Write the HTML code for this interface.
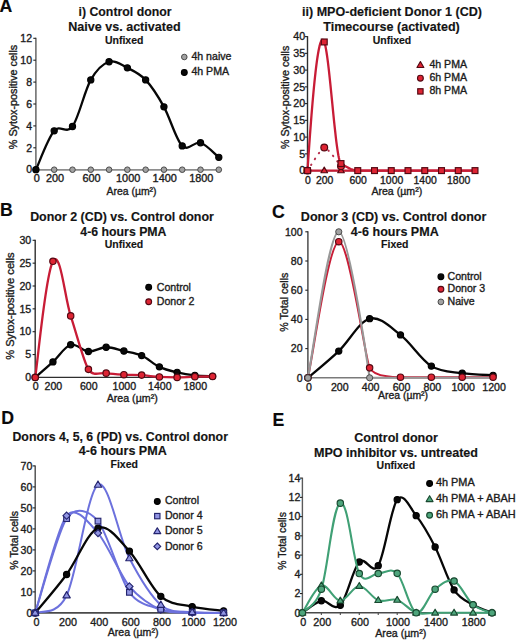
<!DOCTYPE html>
<html><head><meta charset="utf-8"><title>Figure</title>
<style>
html,body{margin:0;padding:0;background:#fff;}
body{width:520px;height:641px;overflow:hidden;font-family:"Liberation Sans", sans-serif;}
svg{display:block;}
</style></head><body>
<svg width="520" height="641" viewBox="0 0 520 641" font-family='"Liberation Sans", sans-serif'>
<rect width="520" height="641" fill="#ffffff"/>
<text x="-0.4" y="12.4" font-size="17.7" text-anchor="start" font-weight="bold" stroke="#0a0a0a" stroke-width="0.15" fill="#0a0a0a">A</text>
<text transform="translate(125 16.1) scale(1.01 1)" font-size="12.2" text-anchor="middle" font-weight="bold" stroke="#141414" stroke-width="0.15" fill="#141414">i) Control donor</text>
<text transform="translate(124.4 31.1) scale(1.03 1)" font-size="12.2" text-anchor="middle" font-weight="bold" stroke="#141414" stroke-width="0.15" fill="#141414">Naive vs. activated</text>
<text transform="translate(124.2 43.6) scale(1.04 1)" font-size="10.1" text-anchor="middle" font-weight="bold" stroke="#141414" stroke-width="0.15" fill="#141414">Unfixed</text>
<line x1="35.9" y1="37.8" x2="35.9" y2="169.7" stroke="#5c5c5c" stroke-width="1.4"/>
<line x1="33.3" y1="169.7" x2="35.9" y2="169.7" stroke="#222222" stroke-width="1.1"/>
<text transform="translate(32 173.4) scale(1.03 1)" font-size="10.2" text-anchor="end" stroke="#1c1c1c" stroke-width="0.35" fill="#1c1c1c">0</text>
<line x1="33.3" y1="147.8" x2="35.9" y2="147.8" stroke="#222222" stroke-width="1.1"/>
<text transform="translate(32 151.5) scale(1.03 1)" font-size="10.2" text-anchor="end" stroke="#1c1c1c" stroke-width="0.35" fill="#1c1c1c">2</text>
<line x1="33.3" y1="125.9" x2="35.9" y2="125.9" stroke="#222222" stroke-width="1.1"/>
<text transform="translate(32 129.6) scale(1.03 1)" font-size="10.2" text-anchor="end" stroke="#1c1c1c" stroke-width="0.35" fill="#1c1c1c">4</text>
<line x1="33.3" y1="104" x2="35.9" y2="104" stroke="#222222" stroke-width="1.1"/>
<text transform="translate(32 107.7) scale(1.03 1)" font-size="10.2" text-anchor="end" stroke="#1c1c1c" stroke-width="0.35" fill="#1c1c1c">6</text>
<line x1="33.3" y1="82.1" x2="35.9" y2="82.1" stroke="#222222" stroke-width="1.1"/>
<text transform="translate(32 85.8) scale(1.03 1)" font-size="10.2" text-anchor="end" stroke="#1c1c1c" stroke-width="0.35" fill="#1c1c1c">8</text>
<line x1="33.3" y1="60.2" x2="35.9" y2="60.2" stroke="#222222" stroke-width="1.1"/>
<text transform="translate(32 63.9) scale(1.03 1)" font-size="10.2" text-anchor="end" stroke="#1c1c1c" stroke-width="0.35" fill="#1c1c1c">10</text>
<line x1="33.3" y1="38.3" x2="35.9" y2="38.3" stroke="#222222" stroke-width="1.1"/>
<text transform="translate(32 42) scale(1.03 1)" font-size="10.2" text-anchor="end" stroke="#1c1c1c" stroke-width="0.35" fill="#1c1c1c">12</text>
<line x1="35.9" y1="169.7" x2="221.54" y2="169.7" stroke="#8c8c8c" stroke-width="1.4"/>
<text transform="translate(36.7 182) scale(1.07 1)" font-size="10.2" text-anchor="middle" stroke="#1c1c1c" stroke-width="0.35" fill="#1c1c1c">0</text>
<text transform="translate(54.99 182) scale(1.07 1)" font-size="10.2" text-anchor="middle" stroke="#1c1c1c" stroke-width="0.35" fill="#1c1c1c">200</text>
<text transform="translate(91.57 182) scale(1.07 1)" font-size="10.2" text-anchor="middle" stroke="#1c1c1c" stroke-width="0.35" fill="#1c1c1c">600</text>
<text transform="translate(128.15 182) scale(1.07 1)" font-size="10.2" text-anchor="middle" stroke="#1c1c1c" stroke-width="0.35" fill="#1c1c1c">1000</text>
<text transform="translate(164.73 182) scale(1.07 1)" font-size="10.2" text-anchor="middle" stroke="#1c1c1c" stroke-width="0.35" fill="#1c1c1c">1400</text>
<text transform="translate(201.31 182) scale(1.07 1)" font-size="10.2" text-anchor="middle" stroke="#1c1c1c" stroke-width="0.35" fill="#1c1c1c">1800</text>
<text transform="translate(16.5 97) rotate(-90) scale(1 1)" font-size="10.8" text-anchor="middle" fill="#1c1c1c" stroke="#1c1c1c" stroke-width="0.35">% Sytox-positive cells</text>
<text x="131.5" y="194.8" font-size="10.45" text-anchor="middle" stroke="#1c1c1c" stroke-width="0.35" fill="#1c1c1c">Area (µm²)</text>
<path d="M35.9,169.7 L54.19,169.7 L72.48,169.7 L90.77,169.7 L109.06,169.7 L127.35,169.7 L145.64,169.7 L163.93,169.7 L182.22,169.7 L200.51,169.7 L218.8,169.7" fill="none" stroke="#8e8e8e" stroke-width="1.6" stroke-linejoin="round" stroke-linecap="round"/>
<circle cx="35.9" cy="169.7" r="2.8" fill="#a2a2a2" stroke="#3e3e3e" stroke-width="0.9"/>
<circle cx="54.19" cy="169.7" r="2.8" fill="#a2a2a2" stroke="#3e3e3e" stroke-width="0.9"/>
<circle cx="72.48" cy="169.7" r="2.8" fill="#a2a2a2" stroke="#3e3e3e" stroke-width="0.9"/>
<circle cx="90.77" cy="169.7" r="2.8" fill="#a2a2a2" stroke="#3e3e3e" stroke-width="0.9"/>
<circle cx="109.06" cy="169.7" r="2.8" fill="#a2a2a2" stroke="#3e3e3e" stroke-width="0.9"/>
<circle cx="127.35" cy="169.7" r="2.8" fill="#a2a2a2" stroke="#3e3e3e" stroke-width="0.9"/>
<circle cx="145.64" cy="169.7" r="2.8" fill="#a2a2a2" stroke="#3e3e3e" stroke-width="0.9"/>
<circle cx="163.93" cy="169.7" r="2.8" fill="#a2a2a2" stroke="#3e3e3e" stroke-width="0.9"/>
<circle cx="182.22" cy="169.7" r="2.8" fill="#a2a2a2" stroke="#3e3e3e" stroke-width="0.9"/>
<circle cx="200.51" cy="169.7" r="2.8" fill="#a2a2a2" stroke="#3e3e3e" stroke-width="0.9"/>
<circle cx="218.8" cy="169.7" r="2.8" fill="#a2a2a2" stroke="#3e3e3e" stroke-width="0.9"/>
<path d="M35.9,169.7 C38.95,163.22 48.09,138.04 54.19,130.83 C60.29,123.62 66.38,134.93 72.48,126.45 C78.58,117.96 84.67,90.7 90.77,79.91 C96.87,69.12 102.96,63.74 109.06,61.73 C115.16,59.73 121.25,64.84 127.35,67.86 C133.45,70.89 139.54,73.41 145.64,79.91 C151.74,86.41 157.83,95.84 163.93,106.85 C170.03,117.85 176.12,139.95 182.22,145.94 C188.32,151.92 194.41,140.86 200.51,142.76 C206.61,144.66 215.75,154.9 218.8,157.33" fill="none" stroke="#070707" stroke-width="2.3" stroke-linejoin="round" stroke-linecap="round"/>
<circle cx="35.9" cy="169.7" r="3.1" fill="#080808" stroke="#000000" stroke-width="1.15"/>
<circle cx="54.19" cy="130.83" r="3.1" fill="#080808" stroke="#000000" stroke-width="1.15"/>
<circle cx="72.48" cy="126.45" r="3.1" fill="#080808" stroke="#000000" stroke-width="1.15"/>
<circle cx="90.77" cy="79.91" r="3.1" fill="#080808" stroke="#000000" stroke-width="1.15"/>
<circle cx="109.06" cy="61.73" r="3.1" fill="#080808" stroke="#000000" stroke-width="1.15"/>
<circle cx="127.35" cy="67.86" r="3.1" fill="#080808" stroke="#000000" stroke-width="1.15"/>
<circle cx="145.64" cy="79.91" r="3.1" fill="#080808" stroke="#000000" stroke-width="1.15"/>
<circle cx="163.93" cy="106.85" r="3.1" fill="#080808" stroke="#000000" stroke-width="1.15"/>
<circle cx="182.22" cy="145.94" r="3.1" fill="#080808" stroke="#000000" stroke-width="1.15"/>
<circle cx="200.51" cy="142.76" r="3.1" fill="#080808" stroke="#000000" stroke-width="1.15"/>
<circle cx="218.8" cy="157.33" r="3.1" fill="#080808" stroke="#000000" stroke-width="1.15"/>
<circle cx="184.3" cy="57" r="2.8" fill="#a2a2a2" stroke="#3e3e3e" stroke-width="0.9"/>
<circle cx="184.3" cy="72.5" r="2.9" fill="#080808" stroke="#000000" stroke-width="1.15"/>
<text transform="translate(191.4 60) scale(1.06 1)" font-size="10" text-anchor="start" stroke="#1c1c1c" stroke-width="0.35" fill="#1c1c1c">4h naive</text>
<text transform="translate(191.4 75.4) scale(1.06 1)" font-size="10" text-anchor="start" stroke="#1c1c1c" stroke-width="0.35" fill="#1c1c1c">4h PMA</text>
<text transform="translate(392 16.3) scale(1.03 1)" font-size="12.2" text-anchor="middle" font-weight="bold" stroke="#141414" stroke-width="0.15" fill="#141414">ii) MPO-deficient Donor 1 (CD)</text>
<text transform="translate(391.5 30.8) scale(1.03 1)" font-size="12.2" text-anchor="middle" font-weight="bold" stroke="#141414" stroke-width="0.15" fill="#141414">Timecourse (activated)</text>
<text transform="translate(392 43.8) scale(1.04 1)" font-size="10.1" text-anchor="middle" font-weight="bold" stroke="#141414" stroke-width="0.15" fill="#141414">Unfixed</text>
<line x1="307.5" y1="36.1" x2="307.5" y2="170.6" stroke="#2e2e2e" stroke-width="1.4"/>
<line x1="304.9" y1="170.6" x2="307.5" y2="170.6" stroke="#222222" stroke-width="1.1"/>
<text transform="translate(305.2 174.3) scale(1.05 1)" font-size="10.2" text-anchor="end" stroke="#1c1c1c" stroke-width="0.35" fill="#1c1c1c">0</text>
<line x1="304.9" y1="153.85" x2="307.5" y2="153.85" stroke="#222222" stroke-width="1.1"/>
<text transform="translate(305.2 157.55) scale(1.05 1)" font-size="10.2" text-anchor="end" stroke="#1c1c1c" stroke-width="0.35" fill="#1c1c1c">5</text>
<line x1="304.9" y1="137.1" x2="307.5" y2="137.1" stroke="#222222" stroke-width="1.1"/>
<text transform="translate(305.2 140.8) scale(1.05 1)" font-size="10.2" text-anchor="end" stroke="#1c1c1c" stroke-width="0.35" fill="#1c1c1c">10</text>
<line x1="304.9" y1="120.35" x2="307.5" y2="120.35" stroke="#222222" stroke-width="1.1"/>
<text transform="translate(305.2 124.05) scale(1.05 1)" font-size="10.2" text-anchor="end" stroke="#1c1c1c" stroke-width="0.35" fill="#1c1c1c">15</text>
<line x1="304.9" y1="103.6" x2="307.5" y2="103.6" stroke="#222222" stroke-width="1.1"/>
<text transform="translate(305.2 107.3) scale(1.05 1)" font-size="10.2" text-anchor="end" stroke="#1c1c1c" stroke-width="0.35" fill="#1c1c1c">20</text>
<line x1="304.9" y1="86.85" x2="307.5" y2="86.85" stroke="#222222" stroke-width="1.1"/>
<text transform="translate(305.2 90.55) scale(1.05 1)" font-size="10.2" text-anchor="end" stroke="#1c1c1c" stroke-width="0.35" fill="#1c1c1c">25</text>
<line x1="304.9" y1="70.1" x2="307.5" y2="70.1" stroke="#222222" stroke-width="1.1"/>
<text transform="translate(305.2 73.8) scale(1.05 1)" font-size="10.2" text-anchor="end" stroke="#1c1c1c" stroke-width="0.35" fill="#1c1c1c">30</text>
<line x1="304.9" y1="53.35" x2="307.5" y2="53.35" stroke="#222222" stroke-width="1.1"/>
<text transform="translate(305.2 57.05) scale(1.05 1)" font-size="10.2" text-anchor="end" stroke="#1c1c1c" stroke-width="0.35" fill="#1c1c1c">35</text>
<line x1="304.9" y1="36.6" x2="307.5" y2="36.6" stroke="#222222" stroke-width="1.1"/>
<text transform="translate(305.2 40.3) scale(1.05 1)" font-size="10.2" text-anchor="end" stroke="#1c1c1c" stroke-width="0.35" fill="#1c1c1c">40</text>
<line x1="307.5" y1="170.6" x2="477.09" y2="170.6" stroke="#2e2e2e" stroke-width="1.4"/>
<text transform="translate(307.9 183.9) scale(1.02 1)" font-size="10.2" text-anchor="middle" stroke="#1c1c1c" stroke-width="0.35" fill="#1c1c1c">0</text>
<text transform="translate(324.65 183.9) scale(1.02 1)" font-size="10.2" text-anchor="middle" stroke="#1c1c1c" stroke-width="0.35" fill="#1c1c1c">200</text>
<text transform="translate(358.15 183.9) scale(1.02 1)" font-size="10.2" text-anchor="middle" stroke="#1c1c1c" stroke-width="0.35" fill="#1c1c1c">600</text>
<text transform="translate(391.65 183.9) scale(1.02 1)" font-size="10.2" text-anchor="middle" stroke="#1c1c1c" stroke-width="0.35" fill="#1c1c1c">1000</text>
<text transform="translate(425.15 183.9) scale(1.02 1)" font-size="10.2" text-anchor="middle" stroke="#1c1c1c" stroke-width="0.35" fill="#1c1c1c">1400</text>
<text transform="translate(458.65 183.9) scale(1.02 1)" font-size="10.2" text-anchor="middle" stroke="#1c1c1c" stroke-width="0.35" fill="#1c1c1c">1800</text>
<text transform="translate(288.9 97.4) rotate(-90) scale(1 1)" font-size="10.7" text-anchor="middle" fill="#1c1c1c" stroke="#1c1c1c" stroke-width="0.35">% Sytox-positive cells</text>
<text x="396.8" y="194.6" font-size="10.6" text-anchor="middle" stroke="#1c1c1c" stroke-width="0.35" fill="#1c1c1c">Area (µm²)</text>
<path d="M307.5,170.6 L324.25,170.6 L341,170.6 L357.75,170.6 L374.5,170.6 L391.25,170.6 L408,170.6 L424.75,170.6 L441.5,170.6 L458.25,170.6 L475,170.6" fill="none" stroke="#c81c36" stroke-width="2.2" stroke-linejoin="round" stroke-linecap="round"/>
<path d="M307.5,170.6 C309.04,168.48 321.18,147.88 324.25,147.48 C327.32,147.09 339.46,164.53 341,166.25" fill="none" stroke="#b8304e" stroke-width="2" stroke-linejoin="round" stroke-linecap="round" stroke-dasharray="0.6,6.2"/>
<path d="M307.5,170.6 L308,163.12 L308.5,155.78 L309,148.6 L309.49,141.58 L309.99,134.73 L310.49,128.06 L310.99,121.56 L311.49,115.26 L311.99,109.16 L312.49,103.26 L312.98,97.58 L313.48,92.11 L313.98,86.88 L314.48,81.88 L314.98,77.12 L315.48,72.61 L315.97,68.35 L316.47,64.36 L316.97,60.65 L317.47,57.21 L317.97,54.06 L318.47,51.2 L318.97,48.64 L319.46,46.4 L319.96,44.46 L320.46,42.85 L320.96,41.58 L321.46,40.64 L321.96,40.04 L322.46,39.8 L322.95,39.92 L323.45,40.4 L323.95,41.26 L324.45,42.51 L324.95,44.2 L325.45,46.33 L325.94,48.87 L326.44,51.77 L326.94,55.02 L327.44,58.59 L327.94,62.43 L328.44,66.53 L328.94,70.86 L329.43,75.37 L329.93,80.05 L330.43,84.87 L330.93,89.78 L331.43,94.77 L331.93,99.81 L332.43,104.85 L332.92,109.88 L333.42,114.86 L333.92,119.77 L334.42,124.57 L334.92,129.23 L335.42,133.72 L335.92,138.01 L336.41,142.08 L336.91,145.89 L337.41,149.41 L337.91,152.62 L338.41,155.48 L338.91,157.95 L339.4,160.03 L339.9,161.66 L340.4,162.83 L340.9,163.49 L341.4,163.81 L341.9,164.11 L342.4,164.42 L342.89,164.72 L343.39,165.02 L343.89,165.32 L344.39,165.62 L344.89,165.92 L345.39,166.21 L345.89,166.5 L346.38,166.78 L346.88,167.06 L347.38,167.33 L347.88,167.6 L348.38,167.86 L348.88,168.11 L349.38,168.35 L349.87,168.59 L350.37,168.81 L350.87,169.03 L351.37,169.23 L351.87,169.42 L352.37,169.6 L352.86,169.77 L353.36,169.92 L353.86,170.06 L354.36,170.18 L354.86,170.29 L355.36,170.39 L355.86,170.47 L356.35,170.53 L356.85,170.57 L357.35,170.59 L357.85,170.6 L358.35,170.6 L358.85,170.6 L359.35,170.6 L359.84,170.6 L360.34,170.6 L360.84,170.6 L361.34,170.6 L361.84,170.6 L362.34,170.6 L362.83,170.6 L363.33,170.6 L363.83,170.6 L364.33,170.6 L364.83,170.6 L365.33,170.6 L365.83,170.6 L366.32,170.6 L366.82,170.6 L367.32,170.6 L367.82,170.6 L368.32,170.6 L368.82,170.6 L369.32,170.6 L369.81,170.6 L370.31,170.6 L370.81,170.6 L371.31,170.6 L371.81,170.6 L372.31,170.6 L372.81,170.6 L373.3,170.6 L373.8,170.6 L374.3,170.6 L374.8,170.6 L375.3,170.6 L375.8,170.6 L376.29,170.6 L376.79,170.6 L377.29,170.6 L377.79,170.6 L378.29,170.6 L378.79,170.6 L379.29,170.6 L379.78,170.6 L380.28,170.6 L380.78,170.6 L381.28,170.6 L381.78,170.6 L382.28,170.6 L382.78,170.6 L383.27,170.6 L383.77,170.6 L384.27,170.6 L384.77,170.6 L385.27,170.6 L385.77,170.6 L386.26,170.6 L386.76,170.6 L387.26,170.6 L387.76,170.6 L388.26,170.6 L388.76,170.6 L389.26,170.6 L389.75,170.6 L390.25,170.6 L390.75,170.6 L391.25,170.6 L391.75,170.6 L392.25,170.6 L392.75,170.6 L393.24,170.6 L393.74,170.6 L394.24,170.6 L394.74,170.6 L395.24,170.6 L395.74,170.6 L396.24,170.6 L396.73,170.6 L397.23,170.6 L397.73,170.6 L398.23,170.6 L398.73,170.6 L399.23,170.6 L399.72,170.6 L400.22,170.6 L400.72,170.6 L401.22,170.6 L401.72,170.6 L402.22,170.6 L402.72,170.6 L403.21,170.6 L403.71,170.6 L404.21,170.6 L404.71,170.6 L405.21,170.6 L405.71,170.6 L406.21,170.6 L406.7,170.6 L407.2,170.6 L407.7,170.6 L408.2,170.6 L408.7,170.6 L409.2,170.6 L409.69,170.6 L410.19,170.6 L410.69,170.6 L411.19,170.6 L411.69,170.6 L412.19,170.6 L412.69,170.6 L413.18,170.6 L413.68,170.6 L414.18,170.6 L414.68,170.6 L415.18,170.6 L415.68,170.6 L416.18,170.6 L416.67,170.6 L417.17,170.6 L417.67,170.6 L418.17,170.6 L418.67,170.6 L419.17,170.6 L419.67,170.6 L420.16,170.6 L420.66,170.6 L421.16,170.6 L421.66,170.6 L422.16,170.6 L422.66,170.6 L423.15,170.6 L423.65,170.6 L424.15,170.6 L424.65,170.6 L425.15,170.6 L425.65,170.6 L426.15,170.6 L426.64,170.6 L427.14,170.6 L427.64,170.6 L428.14,170.6 L428.64,170.6 L429.14,170.6 L429.64,170.6 L430.13,170.6 L430.63,170.6 L431.13,170.6 L431.63,170.6 L432.13,170.6 L432.63,170.6 L433.12,170.6 L433.62,170.6 L434.12,170.6 L434.62,170.6 L435.12,170.6 L435.62,170.6 L436.12,170.6 L436.61,170.6 L437.11,170.6 L437.61,170.6 L438.11,170.6 L438.61,170.6 L439.11,170.6 L439.61,170.6 L440.1,170.6 L440.6,170.6 L441.1,170.6 L441.6,170.6 L442.1,170.6 L442.6,170.6 L443.1,170.6 L443.59,170.6 L444.09,170.6 L444.59,170.6 L445.09,170.6 L445.59,170.6 L446.09,170.6 L446.58,170.6 L447.08,170.6 L447.58,170.6 L448.08,170.6 L448.58,170.6 L449.08,170.6 L449.58,170.6 L450.07,170.6 L450.57,170.6 L451.07,170.6 L451.57,170.6 L452.07,170.6 L452.57,170.6 L453.07,170.6 L453.56,170.6 L454.06,170.6 L454.56,170.6 L455.06,170.6 L455.56,170.6 L456.06,170.6 L456.56,170.6 L457.05,170.6 L457.55,170.6 L458.05,170.6 L458.55,170.6 L459.05,170.6 L459.55,170.6 L460.04,170.6 L460.54,170.6 L461.04,170.6 L461.54,170.6 L462.04,170.6 L462.54,170.6 L463.04,170.6 L463.53,170.6 L464.03,170.6 L464.53,170.6 L465.03,170.6 L465.53,170.6 L466.03,170.6 L466.53,170.6 L467.02,170.6 L467.52,170.6 L468.02,170.6 L468.52,170.6 L469.02,170.6 L469.52,170.6 L470.01,170.6 L470.51,170.6 L471.01,170.6 L471.51,170.6 L472.01,170.6 L472.51,170.6 L473.01,170.6 L473.5,170.6 L474,170.6 L474.5,170.6 L475,170.6" fill="none" stroke="#c81c36" stroke-width="2.3" stroke-linejoin="round" stroke-linecap="round"/>
<polygon points="307.5,167.1 310.82,172.77 304.18,172.77" fill="#de2433" stroke="#520812" stroke-width="1.15" stroke-linejoin="round"/>
<polygon points="324.25,167.1 327.57,172.77 320.93,172.77" fill="#de2433" stroke="#520812" stroke-width="1.15" stroke-linejoin="round"/>
<polygon points="341,167.1 344.32,172.77 337.68,172.77" fill="#de2433" stroke="#520812" stroke-width="1.15" stroke-linejoin="round"/>
<circle cx="307.5" cy="170.6" r="3.4" fill="#de2433" stroke="#520812" stroke-width="1.15"/>
<circle cx="324.25" cy="147.48" r="3.4" fill="#de2433" stroke="#520812" stroke-width="1.15"/>
<circle cx="341" cy="166.25" r="3.4" fill="#de2433" stroke="#520812" stroke-width="1.15"/>
<rect x="304.56" y="167.66" width="5.89" height="5.89" fill="#de2433" stroke="#520812" stroke-width="1.15"/>
<rect x="321.31" y="39.02" width="5.89" height="5.89" fill="#de2433" stroke="#520812" stroke-width="1.15"/>
<rect x="338.06" y="160.62" width="5.89" height="5.89" fill="#de2433" stroke="#520812" stroke-width="1.15"/>
<rect x="354.81" y="167.66" width="5.89" height="5.89" fill="#de2433" stroke="#520812" stroke-width="1.15"/>
<rect x="371.56" y="167.66" width="5.89" height="5.89" fill="#de2433" stroke="#520812" stroke-width="1.15"/>
<rect x="388.31" y="167.66" width="5.89" height="5.89" fill="#de2433" stroke="#520812" stroke-width="1.15"/>
<rect x="405.06" y="167.66" width="5.89" height="5.89" fill="#de2433" stroke="#520812" stroke-width="1.15"/>
<rect x="421.81" y="167.66" width="5.89" height="5.89" fill="#de2433" stroke="#520812" stroke-width="1.15"/>
<rect x="438.56" y="167.66" width="5.89" height="5.89" fill="#de2433" stroke="#520812" stroke-width="1.15"/>
<rect x="455.31" y="167.66" width="5.89" height="5.89" fill="#de2433" stroke="#520812" stroke-width="1.15"/>
<rect x="472.06" y="167.66" width="5.89" height="5.89" fill="#de2433" stroke="#520812" stroke-width="1.15"/>
<polygon points="420.4,61.58 423.84,67.45 416.96,67.45" fill="#de2433" stroke="#520812" stroke-width="1.15" stroke-linejoin="round"/>
<circle cx="420.4" cy="78.2" r="2.9" fill="#de2433" stroke="#520812" stroke-width="1.15"/>
<rect x="417.73" y="88.73" width="5.34" height="5.34" fill="#de2433" stroke="#520812" stroke-width="1.15"/>
<text x="429.4" y="68.2" font-size="10.6" text-anchor="start" stroke="#1c1c1c" stroke-width="0.35" fill="#1c1c1c">4h PMA</text>
<text x="429.4" y="81.4" font-size="10.6" text-anchor="start" stroke="#1c1c1c" stroke-width="0.35" fill="#1c1c1c">6h PMA</text>
<text x="429.4" y="94.4" font-size="10.6" text-anchor="start" stroke="#1c1c1c" stroke-width="0.35" fill="#1c1c1c">8h PMA</text>
<text x="0" y="216.3" font-size="17.7" text-anchor="start" font-weight="bold" stroke="#0a0a0a" stroke-width="0.15" fill="#0a0a0a">B</text>
<text transform="translate(122 220.8) scale(1.02 1)" font-size="12.2" text-anchor="middle" font-weight="bold" stroke="#141414" stroke-width="0.15" fill="#141414">Donor 2 (CD) vs. Control donor</text>
<text transform="translate(123.4 235.7) scale(1.01 1)" font-size="12.2" text-anchor="middle" font-weight="bold" stroke="#141414" stroke-width="0.15" fill="#141414">4-6 hours PMA</text>
<text transform="translate(124 248.2) scale(1.04 1)" font-size="10.1" text-anchor="middle" font-weight="bold" stroke="#141414" stroke-width="0.15" fill="#141414">Unfixed</text>
<line x1="35.2" y1="239.8" x2="35.2" y2="377.4" stroke="#2e2e2e" stroke-width="1.4"/>
<line x1="32.6" y1="377.4" x2="35.2" y2="377.4" stroke="#222222" stroke-width="1.1"/>
<text x="31.2" y="381.1" font-size="10.6" text-anchor="end" stroke="#1c1c1c" stroke-width="0.35" fill="#1c1c1c">0</text>
<line x1="32.6" y1="354.55" x2="35.2" y2="354.55" stroke="#222222" stroke-width="1.1"/>
<text x="31.2" y="358.25" font-size="10.6" text-anchor="end" stroke="#1c1c1c" stroke-width="0.35" fill="#1c1c1c">5</text>
<line x1="32.6" y1="331.7" x2="35.2" y2="331.7" stroke="#222222" stroke-width="1.1"/>
<text x="31.2" y="335.4" font-size="10.6" text-anchor="end" stroke="#1c1c1c" stroke-width="0.35" fill="#1c1c1c">10</text>
<line x1="32.6" y1="308.85" x2="35.2" y2="308.85" stroke="#222222" stroke-width="1.1"/>
<text x="31.2" y="312.55" font-size="10.6" text-anchor="end" stroke="#1c1c1c" stroke-width="0.35" fill="#1c1c1c">15</text>
<line x1="32.6" y1="286" x2="35.2" y2="286" stroke="#222222" stroke-width="1.1"/>
<text x="31.2" y="289.7" font-size="10.6" text-anchor="end" stroke="#1c1c1c" stroke-width="0.35" fill="#1c1c1c">20</text>
<line x1="32.6" y1="263.15" x2="35.2" y2="263.15" stroke="#222222" stroke-width="1.1"/>
<text x="31.2" y="266.85" font-size="10.6" text-anchor="end" stroke="#1c1c1c" stroke-width="0.35" fill="#1c1c1c">25</text>
<line x1="32.6" y1="240.3" x2="35.2" y2="240.3" stroke="#222222" stroke-width="1.1"/>
<text x="31.2" y="244" font-size="10.6" text-anchor="end" stroke="#1c1c1c" stroke-width="0.35" fill="#1c1c1c">30</text>
<line x1="35.2" y1="377.4" x2="214.37" y2="377.4" stroke="#2e2e2e" stroke-width="1.4"/>
<text x="35.6" y="389.7" font-size="10.6" text-anchor="middle" stroke="#1c1c1c" stroke-width="0.35" fill="#1c1c1c">0</text>
<text x="53.34" y="389.7" font-size="10.6" text-anchor="middle" stroke="#1c1c1c" stroke-width="0.35" fill="#1c1c1c">200</text>
<text x="88.82" y="389.7" font-size="10.6" text-anchor="middle" stroke="#1c1c1c" stroke-width="0.35" fill="#1c1c1c">600</text>
<text x="124.3" y="389.7" font-size="10.6" text-anchor="middle" stroke="#1c1c1c" stroke-width="0.35" fill="#1c1c1c">1000</text>
<text x="159.78" y="389.7" font-size="10.6" text-anchor="middle" stroke="#1c1c1c" stroke-width="0.35" fill="#1c1c1c">1400</text>
<text x="195.26" y="389.7" font-size="10.6" text-anchor="middle" stroke="#1c1c1c" stroke-width="0.35" fill="#1c1c1c">1800</text>
<text transform="translate(14.3 306.1) rotate(-90) scale(1 1)" font-size="11.1" text-anchor="middle" fill="#1c1c1c" stroke="#1c1c1c" stroke-width="0.35">% Sytox-positive cells</text>
<text x="132.2" y="401.5" font-size="10.65" text-anchor="middle" stroke="#1c1c1c" stroke-width="0.35" fill="#1c1c1c">Area (µm²)</text>
<path d="M35.2,377.4 C38.16,374.82 47.03,367.35 52.94,361.91 C58.85,356.47 64.77,346.5 70.68,344.77 C76.59,343.04 82.51,351.12 88.42,351.53 C94.33,351.95 100.25,347.32 106.16,347.24 C112.07,347.15 117.99,349.64 123.9,351.03 C129.81,352.42 135.73,352.92 141.64,355.56 C147.55,358.19 153.47,364.04 159.38,366.84 C165.29,369.65 171.21,370.95 177.12,372.37 C183.03,373.8 188.95,374.76 194.86,375.39 C200.77,376.02 209.64,376.04 212.6,376.17" fill="none" stroke="#070707" stroke-width="2.3" stroke-linejoin="round" stroke-linecap="round"/>
<path d="M35.2,377.4 C38.16,358.05 45.55,274.14 52.94,261.32 C60.33,248.51 64.77,297.88 70.68,315.89 C76.59,333.89 83.69,361.72 88.42,369.36 C93.15,376.99 100.25,372.27 106.16,373.15 C112.07,374.03 117.99,374.33 123.9,374.66 C129.81,374.99 135.73,374.73 141.64,375.11 C147.55,375.5 153.47,376.56 159.38,376.94 C165.29,377.32 171.21,377.44 177.12,377.4 C183.03,377.36 188.95,376.87 194.86,376.71 C200.77,376.56 209.64,376.52 212.6,376.49" fill="none" stroke="#c81c36" stroke-width="2.3" stroke-linejoin="round" stroke-linecap="round"/>
<circle cx="35.2" cy="377.4" r="3.1" fill="#080808" stroke="#000000" stroke-width="1.15"/>
<circle cx="52.94" cy="361.91" r="3.1" fill="#080808" stroke="#000000" stroke-width="1.15"/>
<circle cx="70.68" cy="344.77" r="3.1" fill="#080808" stroke="#000000" stroke-width="1.15"/>
<circle cx="88.42" cy="351.53" r="3.1" fill="#080808" stroke="#000000" stroke-width="1.15"/>
<circle cx="106.16" cy="347.24" r="3.1" fill="#080808" stroke="#000000" stroke-width="1.15"/>
<circle cx="123.9" cy="351.03" r="3.1" fill="#080808" stroke="#000000" stroke-width="1.15"/>
<circle cx="141.64" cy="355.56" r="3.1" fill="#080808" stroke="#000000" stroke-width="1.15"/>
<circle cx="159.38" cy="366.84" r="3.1" fill="#080808" stroke="#000000" stroke-width="1.15"/>
<circle cx="177.12" cy="372.37" r="3.1" fill="#080808" stroke="#000000" stroke-width="1.15"/>
<circle cx="194.86" cy="375.39" r="3.1" fill="#080808" stroke="#000000" stroke-width="1.15"/>
<circle cx="212.6" cy="376.17" r="3.1" fill="#080808" stroke="#000000" stroke-width="1.15"/>
<circle cx="35.2" cy="377.4" r="3.2" fill="#de2433" stroke="#520812" stroke-width="1.15"/>
<circle cx="52.94" cy="261.32" r="3.2" fill="#de2433" stroke="#520812" stroke-width="1.15"/>
<circle cx="70.68" cy="315.89" r="3.2" fill="#de2433" stroke="#520812" stroke-width="1.15"/>
<circle cx="88.42" cy="369.36" r="3.2" fill="#de2433" stroke="#520812" stroke-width="1.15"/>
<circle cx="106.16" cy="373.15" r="3.2" fill="#de2433" stroke="#520812" stroke-width="1.15"/>
<circle cx="123.9" cy="374.66" r="3.2" fill="#de2433" stroke="#520812" stroke-width="1.15"/>
<circle cx="141.64" cy="375.11" r="3.2" fill="#de2433" stroke="#520812" stroke-width="1.15"/>
<circle cx="159.38" cy="376.94" r="3.2" fill="#de2433" stroke="#520812" stroke-width="1.15"/>
<circle cx="177.12" cy="377.4" r="3.2" fill="#de2433" stroke="#520812" stroke-width="1.15"/>
<circle cx="194.86" cy="376.71" r="3.2" fill="#de2433" stroke="#520812" stroke-width="1.15"/>
<circle cx="212.6" cy="376.49" r="3.2" fill="#de2433" stroke="#520812" stroke-width="1.15"/>
<circle cx="148.7" cy="287.3" r="2.9" fill="#080808" stroke="#000000" stroke-width="1.15"/>
<circle cx="148.7" cy="301.7" r="2.9" fill="#de2433" stroke="#520812" stroke-width="1.15"/>
<text x="156.8" y="290.9" font-size="10.6" text-anchor="start" stroke="#1c1c1c" stroke-width="0.35" fill="#1c1c1c">Control</text>
<text x="156.8" y="304.8" font-size="10.6" text-anchor="start" stroke="#1c1c1c" stroke-width="0.35" fill="#1c1c1c">Donor 2</text>
<text x="272" y="218.3" font-size="17.7" text-anchor="start" font-weight="bold" stroke="#0a0a0a" stroke-width="0.15" fill="#0a0a0a">C</text>
<text transform="translate(393.6 220.8) scale(1.03 1)" font-size="12.2" text-anchor="middle" font-weight="bold" stroke="#141414" stroke-width="0.15" fill="#141414">Donor 3 (CD) vs. Control donor</text>
<text transform="translate(394.8 235.7) scale(1.03 1)" font-size="12.2" text-anchor="middle" font-weight="bold" stroke="#141414" stroke-width="0.15" fill="#141414">4-6 hours PMA</text>
<text transform="translate(394.8 248.2) scale(1.04 1)" font-size="10.1" text-anchor="middle" font-weight="bold" stroke="#141414" stroke-width="0.15" fill="#141414">Fixed</text>
<line x1="307.9" y1="231.3" x2="307.9" y2="377.8" stroke="#404040" stroke-width="1.4"/>
<line x1="305.3" y1="377.8" x2="307.9" y2="377.8" stroke="#222222" stroke-width="1.1"/>
<text x="302.6" y="381.5" font-size="10.6" text-anchor="end" stroke="#1c1c1c" stroke-width="0.35" fill="#1c1c1c">0</text>
<line x1="305.3" y1="348.6" x2="307.9" y2="348.6" stroke="#222222" stroke-width="1.1"/>
<text x="302.6" y="352.3" font-size="10.6" text-anchor="end" stroke="#1c1c1c" stroke-width="0.35" fill="#1c1c1c">20</text>
<line x1="305.3" y1="319.4" x2="307.9" y2="319.4" stroke="#222222" stroke-width="1.1"/>
<text x="302.6" y="323.1" font-size="10.6" text-anchor="end" stroke="#1c1c1c" stroke-width="0.35" fill="#1c1c1c">40</text>
<line x1="305.3" y1="290.2" x2="307.9" y2="290.2" stroke="#222222" stroke-width="1.1"/>
<text x="302.6" y="293.9" font-size="10.6" text-anchor="end" stroke="#1c1c1c" stroke-width="0.35" fill="#1c1c1c">60</text>
<line x1="305.3" y1="261" x2="307.9" y2="261" stroke="#222222" stroke-width="1.1"/>
<text x="302.6" y="264.7" font-size="10.6" text-anchor="end" stroke="#1c1c1c" stroke-width="0.35" fill="#1c1c1c">80</text>
<line x1="305.3" y1="231.8" x2="307.9" y2="231.8" stroke="#222222" stroke-width="1.1"/>
<text x="302.6" y="235.5" font-size="10.6" text-anchor="end" stroke="#1c1c1c" stroke-width="0.35" fill="#1c1c1c">100</text>
<line x1="307.9" y1="377.8" x2="496.15" y2="377.8" stroke="#7a7a7a" stroke-width="1.6"/>
<text x="308.9" y="390.5" font-size="10.6" text-anchor="middle" stroke="#1c1c1c" stroke-width="0.35" fill="#1c1c1c">0</text>
<text x="339.76" y="390.5" font-size="10.6" text-anchor="middle" stroke="#1c1c1c" stroke-width="0.35" fill="#1c1c1c">200</text>
<text x="370.62" y="390.5" font-size="10.6" text-anchor="middle" stroke="#1c1c1c" stroke-width="0.35" fill="#1c1c1c">400</text>
<text x="401.48" y="390.5" font-size="10.6" text-anchor="middle" stroke="#1c1c1c" stroke-width="0.35" fill="#1c1c1c">600</text>
<text x="432.34" y="390.5" font-size="10.6" text-anchor="middle" stroke="#1c1c1c" stroke-width="0.35" fill="#1c1c1c">800</text>
<text x="463.2" y="390.5" font-size="10.6" text-anchor="middle" stroke="#1c1c1c" stroke-width="0.35" fill="#1c1c1c">1000</text>
<text x="494.06" y="390.5" font-size="10.6" text-anchor="middle" stroke="#1c1c1c" stroke-width="0.35" fill="#1c1c1c">1200</text>
<text transform="translate(288 302.2) rotate(-90) scale(1 1)" font-size="10.7" text-anchor="middle" fill="#1c1c1c" stroke="#1c1c1c" stroke-width="0.35">% Total cells</text>
<text x="403" y="399.2" font-size="10.45" text-anchor="middle" stroke="#1c1c1c" stroke-width="0.35" fill="#1c1c1c">Area (µm²)</text>
<path d="M307.9,377.8 C313.04,373.35 328.47,360.94 338.76,351.08 C349.05,341.23 359.33,321.37 369.62,318.67 C379.91,315.97 390.19,326.97 400.48,334.88 C410.77,342.78 421.05,359.74 431.34,366.12 C441.63,372.5 451.91,371.59 462.2,373.13 C472.49,374.66 487.92,374.95 493.06,375.32" fill="none" stroke="#070707" stroke-width="2.3" stroke-linejoin="round" stroke-linecap="round"/>
<path d="M307.9,377.8 C313.04,355.12 328.47,243.38 338.76,241.73 C349.05,240.07 364.99,357.71 369.62,367.87 C374.25,378.03 400.48,377.22 400.48,377.22 C400.48,377.22 431.34,377.22 431.34,377.22 C431.34,377.22 462.2,377.22 462.2,377.22 C462.2,377.22 493.06,377.22 493.06,377.22" fill="none" stroke="#c81c36" stroke-width="2" stroke-linejoin="round" stroke-linecap="round"/>
<path d="M307.9,377.8 C313.04,353.47 328.47,231.8 338.76,231.8 C349.05,231.8 369.62,377.8 369.62,377.8 C369.62,377.8 400.48,377.8 400.48,377.8 C400.48,377.8 431.34,377.8 431.34,377.8 C431.34,377.8 462.2,377.8 462.2,377.8 C462.2,377.8 493.06,377.8 493.06,377.8" fill="none" stroke="#989898" stroke-width="2.1" stroke-linejoin="round" stroke-linecap="round"/>
<circle cx="307.9" cy="377.8" r="3.1" fill="#080808" stroke="#000000" stroke-width="1.15"/>
<circle cx="338.76" cy="351.08" r="3.1" fill="#080808" stroke="#000000" stroke-width="1.15"/>
<circle cx="369.62" cy="318.67" r="3.1" fill="#080808" stroke="#000000" stroke-width="1.15"/>
<circle cx="400.48" cy="334.88" r="3.1" fill="#080808" stroke="#000000" stroke-width="1.15"/>
<circle cx="431.34" cy="366.12" r="3.1" fill="#080808" stroke="#000000" stroke-width="1.15"/>
<circle cx="462.2" cy="373.13" r="3.1" fill="#080808" stroke="#000000" stroke-width="1.15"/>
<circle cx="493.06" cy="375.32" r="3.1" fill="#080808" stroke="#000000" stroke-width="1.15"/>
<circle cx="307.9" cy="377.8" r="3.2" fill="#de2433" stroke="#520812" stroke-width="1.15"/>
<circle cx="338.76" cy="241.73" r="3.2" fill="#de2433" stroke="#520812" stroke-width="1.15"/>
<circle cx="369.62" cy="367.87" r="3.2" fill="#de2433" stroke="#520812" stroke-width="1.15"/>
<circle cx="400.48" cy="377.22" r="3.2" fill="#de2433" stroke="#520812" stroke-width="1.15"/>
<circle cx="431.34" cy="377.22" r="3.2" fill="#de2433" stroke="#520812" stroke-width="1.15"/>
<circle cx="462.2" cy="377.22" r="3.2" fill="#de2433" stroke="#520812" stroke-width="1.15"/>
<circle cx="493.06" cy="377.22" r="3.2" fill="#de2433" stroke="#520812" stroke-width="1.15"/>
<circle cx="307.9" cy="377.8" r="3.1" fill="#a2a2a2" stroke="#3e3e3e" stroke-width="0.9"/>
<circle cx="338.76" cy="231.8" r="3.1" fill="#a2a2a2" stroke="#3e3e3e" stroke-width="0.9"/>
<circle cx="369.62" cy="377.8" r="3.1" fill="#a2a2a2" stroke="#3e3e3e" stroke-width="0.9"/>
<circle cx="440.9" cy="276.8" r="2.9" fill="#080808" stroke="#000000" stroke-width="1.15"/>
<circle cx="440.9" cy="289.3" r="2.9" fill="#de2433" stroke="#520812" stroke-width="1.15"/>
<circle cx="440.9" cy="301.9" r="2.9" fill="#a2a2a2" stroke="#3e3e3e" stroke-width="0.9"/>
<text x="447.5" y="279.6" font-size="10.6" text-anchor="start" stroke="#1c1c1c" stroke-width="0.35" fill="#1c1c1c">Control</text>
<text x="447.5" y="292.3" font-size="10.6" text-anchor="start" stroke="#1c1c1c" stroke-width="0.35" fill="#1c1c1c">Donor 3</text>
<text x="447.5" y="304.8" font-size="10.6" text-anchor="start" stroke="#1c1c1c" stroke-width="0.35" fill="#1c1c1c">Naive</text>
<text x="1.3" y="423.6" font-size="17.7" text-anchor="start" font-weight="bold" stroke="#0a0a0a" stroke-width="0.15" fill="#0a0a0a">D</text>
<text transform="translate(120.2 440.6) scale(1.01 1)" font-size="12.2" text-anchor="middle" font-weight="bold" stroke="#141414" stroke-width="0.15" fill="#141414">Donors 4, 5, 6 (PD) vs. Control donor</text>
<text transform="translate(122.8 455.2) scale(1.03 1)" font-size="12.2" text-anchor="middle" font-weight="bold" stroke="#141414" stroke-width="0.15" fill="#141414">4-6 hours PMA</text>
<text transform="translate(124.2 467.7) scale(1.04 1)" font-size="10.1" text-anchor="middle" font-weight="bold" stroke="#141414" stroke-width="0.15" fill="#141414">Fixed</text>
<line x1="35.2" y1="465.4" x2="35.2" y2="612.9" stroke="#4a4a4a" stroke-width="1.4"/>
<line x1="32.6" y1="612.9" x2="35.2" y2="612.9" stroke="#222222" stroke-width="1.1"/>
<text x="32.4" y="616.6" font-size="10.6" text-anchor="end" stroke="#1c1c1c" stroke-width="0.35" fill="#1c1c1c">0</text>
<line x1="32.6" y1="591.9" x2="35.2" y2="591.9" stroke="#222222" stroke-width="1.1"/>
<text x="32.4" y="595.6" font-size="10.6" text-anchor="end" stroke="#1c1c1c" stroke-width="0.35" fill="#1c1c1c">10</text>
<line x1="32.6" y1="570.9" x2="35.2" y2="570.9" stroke="#222222" stroke-width="1.1"/>
<text x="32.4" y="574.6" font-size="10.6" text-anchor="end" stroke="#1c1c1c" stroke-width="0.35" fill="#1c1c1c">20</text>
<line x1="32.6" y1="549.9" x2="35.2" y2="549.9" stroke="#222222" stroke-width="1.1"/>
<text x="32.4" y="553.6" font-size="10.6" text-anchor="end" stroke="#1c1c1c" stroke-width="0.35" fill="#1c1c1c">30</text>
<line x1="32.6" y1="528.9" x2="35.2" y2="528.9" stroke="#222222" stroke-width="1.1"/>
<text x="32.4" y="532.6" font-size="10.6" text-anchor="end" stroke="#1c1c1c" stroke-width="0.35" fill="#1c1c1c">40</text>
<line x1="32.6" y1="507.9" x2="35.2" y2="507.9" stroke="#222222" stroke-width="1.1"/>
<text x="32.4" y="511.6" font-size="10.6" text-anchor="end" stroke="#1c1c1c" stroke-width="0.35" fill="#1c1c1c">50</text>
<line x1="32.6" y1="486.9" x2="35.2" y2="486.9" stroke="#222222" stroke-width="1.1"/>
<text x="32.4" y="490.6" font-size="10.6" text-anchor="end" stroke="#1c1c1c" stroke-width="0.35" fill="#1c1c1c">60</text>
<line x1="32.6" y1="465.9" x2="35.2" y2="465.9" stroke="#222222" stroke-width="1.1"/>
<text x="32.4" y="469.6" font-size="10.6" text-anchor="end" stroke="#1c1c1c" stroke-width="0.35" fill="#1c1c1c">70</text>
<line x1="35.2" y1="612.9" x2="226.74" y2="612.9" stroke="#4a4a4a" stroke-width="1.6"/>
<text x="36.5" y="625.8" font-size="10.8" text-anchor="middle" stroke="#1c1c1c" stroke-width="0.35" fill="#1c1c1c">0</text>
<text x="67.9" y="625.8" font-size="10.8" text-anchor="middle" stroke="#1c1c1c" stroke-width="0.35" fill="#1c1c1c">200</text>
<text x="99.3" y="625.8" font-size="10.8" text-anchor="middle" stroke="#1c1c1c" stroke-width="0.35" fill="#1c1c1c">400</text>
<text x="130.7" y="625.8" font-size="10.8" text-anchor="middle" stroke="#1c1c1c" stroke-width="0.35" fill="#1c1c1c">600</text>
<text x="162.1" y="625.8" font-size="10.8" text-anchor="middle" stroke="#1c1c1c" stroke-width="0.35" fill="#1c1c1c">800</text>
<text x="193.5" y="625.8" font-size="10.8" text-anchor="middle" stroke="#1c1c1c" stroke-width="0.35" fill="#1c1c1c">1000</text>
<text x="224.9" y="625.8" font-size="10.8" text-anchor="middle" stroke="#1c1c1c" stroke-width="0.35" fill="#1c1c1c">1200</text>
<text transform="translate(17.6 540.3) rotate(-90) scale(1 1)" font-size="10.6" text-anchor="middle" fill="#1c1c1c" stroke="#1c1c1c" stroke-width="0.35">% Total cells</text>
<text x="133.1" y="636.2" font-size="10.6" text-anchor="middle" stroke="#1c1c1c" stroke-width="0.35" fill="#1c1c1c">Area (µm²)</text>
<path d="M35.2,612.9 C39.65,599.54 57.7,531.61 66.6,518.61 C75.5,505.61 89.1,510.69 98,521.13 C106.9,531.57 120.5,579.82 129.4,592.32 C138.3,604.81 151.9,606.5 160.8,609.33 C169.7,612.16 183.3,611.76 192.2,612.27 C201.1,612.78 219.15,612.81 223.6,612.9" fill="none" stroke="#6c71dd" stroke-width="2" stroke-linejoin="round" stroke-linecap="round"/>
<path d="M35.2,612.9 C40.43,610 56.13,616.82 66.6,595.47 C77.07,574.12 87.53,490.99 98,484.8 C108.47,478.6 118.93,538.28 129.4,558.3 C139.87,578.32 150.33,595.92 160.8,604.92 C171.27,613.91 181.73,610.94 192.2,612.27 C202.67,613.6 218.37,612.79 223.6,612.9" fill="none" stroke="#6c71dd" stroke-width="2" stroke-linejoin="round" stroke-linecap="round"/>
<path d="M35.2,612.9 C39.65,599.13 57.7,526.97 66.6,515.67 C75.5,504.36 89.1,523.07 98,533.1 C106.9,543.13 120.5,575.58 129.4,586.44 C138.3,597.3 151.9,606 160.8,609.75 C169.7,613.5 183.3,612.45 192.2,612.9 C201.1,613.35 219.15,612.9 223.6,612.9" fill="none" stroke="#6c71dd" stroke-width="2" stroke-linejoin="round" stroke-linecap="round"/>
<path d="M35.2,612.9 C40.43,606.5 56.13,588.61 66.6,574.47 C77.07,560.33 87.53,531.94 98,528.06 C108.47,524.17 118.93,539.78 129.4,551.16 C139.87,562.53 150.33,587.07 160.8,596.31 C171.27,605.55 181.73,604.19 192.2,606.6 C202.67,609.01 218.37,610.1 223.6,610.8" fill="none" stroke="#070707" stroke-width="2.3" stroke-linejoin="round" stroke-linecap="round"/>
<circle cx="35.2" cy="612.9" r="3.1" fill="#080808" stroke="#000000" stroke-width="1.15"/>
<circle cx="66.6" cy="574.47" r="3.1" fill="#080808" stroke="#000000" stroke-width="1.15"/>
<circle cx="98" cy="528.06" r="3.1" fill="#080808" stroke="#000000" stroke-width="1.15"/>
<circle cx="129.4" cy="551.16" r="3.1" fill="#080808" stroke="#000000" stroke-width="1.15"/>
<circle cx="160.8" cy="596.31" r="3.1" fill="#080808" stroke="#000000" stroke-width="1.15"/>
<circle cx="192.2" cy="606.6" r="3.1" fill="#080808" stroke="#000000" stroke-width="1.15"/>
<circle cx="223.6" cy="610.8" r="3.1" fill="#080808" stroke="#000000" stroke-width="1.15"/>
<polygon points="160.8,606.38 164.18,609.75 160.8,613.12 157.43,609.75" fill="#9195e3" stroke="#24246e" stroke-width="1.15"/>
<polygon points="192.2,609.52 195.57,612.9 192.2,616.27 188.82,612.9" fill="#9195e3" stroke="#24246e" stroke-width="1.15"/>
<polygon points="223.6,609.52 226.98,612.9 223.6,616.27 220.23,612.9" fill="#9195e3" stroke="#24246e" stroke-width="1.15"/>
<rect x="32.35" y="610.05" width="5.7" height="5.7" fill="#9195e3" stroke="#24246e" stroke-width="1.15"/>
<rect x="63.75" y="515.76" width="5.7" height="5.7" fill="#9195e3" stroke="#24246e" stroke-width="1.15"/>
<rect x="95.15" y="518.28" width="5.7" height="5.7" fill="#9195e3" stroke="#24246e" stroke-width="1.15"/>
<rect x="126.55" y="589.47" width="5.7" height="5.7" fill="#9195e3" stroke="#24246e" stroke-width="1.15"/>
<rect x="157.95" y="606.48" width="5.7" height="5.7" fill="#9195e3" stroke="#24246e" stroke-width="1.15"/>
<rect x="189.35" y="609.42" width="5.7" height="5.7" fill="#9195e3" stroke="#24246e" stroke-width="1.15"/>
<rect x="220.75" y="610.05" width="5.7" height="5.7" fill="#9195e3" stroke="#24246e" stroke-width="1.15"/>
<polygon points="35.2,609.27 38.83,612.9 35.2,616.52 31.58,612.9" fill="#9195e3" stroke="#24246e" stroke-width="1.15"/>
<polygon points="66.6,512.04 70.22,515.67 66.6,519.29 62.97,515.67" fill="#9195e3" stroke="#24246e" stroke-width="1.15"/>
<polygon points="98,529.48 101.62,533.1 98,536.73 94.38,533.1" fill="#9195e3" stroke="#24246e" stroke-width="1.15"/>
<polygon points="129.4,582.81 133.03,586.44 129.4,590.06 125.78,586.44" fill="#9195e3" stroke="#24246e" stroke-width="1.15"/>
<polygon points="35.2,609.02 38.88,615.3 31.52,615.3" fill="#9195e3" stroke="#24246e" stroke-width="1.15" stroke-linejoin="round"/>
<polygon points="66.6,591.6 70.28,597.87 62.92,597.87" fill="#9195e3" stroke="#24246e" stroke-width="1.15" stroke-linejoin="round"/>
<polygon points="98,480.92 101.68,487.2 94.32,487.2" fill="#9195e3" stroke="#24246e" stroke-width="1.15" stroke-linejoin="round"/>
<polygon points="129.4,554.42 133.08,560.7 125.72,560.7" fill="#9195e3" stroke="#24246e" stroke-width="1.15" stroke-linejoin="round"/>
<polygon points="160.8,601.04 164.48,607.32 157.12,607.32" fill="#9195e3" stroke="#24246e" stroke-width="1.15" stroke-linejoin="round"/>
<polygon points="192.2,608.39 195.88,614.67 188.52,614.67" fill="#9195e3" stroke="#24246e" stroke-width="1.15" stroke-linejoin="round"/>
<polygon points="223.6,609.02 227.28,615.3 219.92,615.3" fill="#9195e3" stroke="#24246e" stroke-width="1.15" stroke-linejoin="round"/>
<circle cx="157.3" cy="501.4" r="2.9" fill="#080808" stroke="#000000" stroke-width="1.15"/>
<rect x="154.63" y="513.43" width="5.34" height="5.34" fill="#9195e3" stroke="#24246e" stroke-width="1.15"/>
<polygon points="157.3,527.77 160.74,533.65 153.86,533.65" fill="#9195e3" stroke="#24246e" stroke-width="1.15" stroke-linejoin="round"/>
<polygon points="157.3,543.02 160.68,546.4 157.3,549.77 153.93,546.4" fill="#9195e3" stroke="#24246e" stroke-width="1.15"/>
<text x="164.9" y="503.9" font-size="10.6" text-anchor="start" stroke="#1c1c1c" stroke-width="0.35" fill="#1c1c1c">Control</text>
<text x="164.9" y="518.9" font-size="10.6" text-anchor="start" stroke="#1c1c1c" stroke-width="0.35" fill="#1c1c1c">Donor 4</text>
<text x="164.9" y="534.2" font-size="10.6" text-anchor="start" stroke="#1c1c1c" stroke-width="0.35" fill="#1c1c1c">Donor 5</text>
<text x="164.9" y="549.5" font-size="10.6" text-anchor="start" stroke="#1c1c1c" stroke-width="0.35" fill="#1c1c1c">Donor 6</text>
<text x="272.6" y="426.2" font-size="17.7" text-anchor="start" font-weight="bold" stroke="#0a0a0a" stroke-width="0.15" fill="#0a0a0a">E</text>
<text transform="translate(396 442.3) scale(1.03 1)" font-size="12.2" text-anchor="middle" font-weight="bold" stroke="#141414" stroke-width="0.15" fill="#141414">Control donor</text>
<text transform="translate(396 456.9) scale(1.03 1)" font-size="12.2" text-anchor="middle" font-weight="bold" stroke="#141414" stroke-width="0.15" fill="#141414">MPO inhibitor vs. untreated</text>
<text transform="translate(395.8 469.3) scale(1.04 1)" font-size="10.1" text-anchor="middle" font-weight="bold" stroke="#141414" stroke-width="0.15" fill="#141414">Unfixed</text>
<line x1="302.4" y1="477.62" x2="302.4" y2="612.8" stroke="#5a5a5a" stroke-width="1.4"/>
<line x1="299.8" y1="612.8" x2="302.4" y2="612.8" stroke="#222222" stroke-width="1.1"/>
<text x="300.3" y="616.5" font-size="10.6" text-anchor="end" stroke="#1c1c1c" stroke-width="0.35" fill="#1c1c1c">0</text>
<line x1="299.8" y1="593.56" x2="302.4" y2="593.56" stroke="#222222" stroke-width="1.1"/>
<text x="300.3" y="597.26" font-size="10.6" text-anchor="end" stroke="#1c1c1c" stroke-width="0.35" fill="#1c1c1c">2</text>
<line x1="299.8" y1="574.32" x2="302.4" y2="574.32" stroke="#222222" stroke-width="1.1"/>
<text x="300.3" y="578.02" font-size="10.6" text-anchor="end" stroke="#1c1c1c" stroke-width="0.35" fill="#1c1c1c">4</text>
<line x1="299.8" y1="555.08" x2="302.4" y2="555.08" stroke="#222222" stroke-width="1.1"/>
<text x="300.3" y="558.78" font-size="10.6" text-anchor="end" stroke="#1c1c1c" stroke-width="0.35" fill="#1c1c1c">6</text>
<line x1="299.8" y1="535.84" x2="302.4" y2="535.84" stroke="#222222" stroke-width="1.1"/>
<text x="300.3" y="539.54" font-size="10.6" text-anchor="end" stroke="#1c1c1c" stroke-width="0.35" fill="#1c1c1c">8</text>
<line x1="299.8" y1="516.6" x2="302.4" y2="516.6" stroke="#222222" stroke-width="1.1"/>
<text x="300.3" y="520.3" font-size="10.6" text-anchor="end" stroke="#1c1c1c" stroke-width="0.35" fill="#1c1c1c">10</text>
<line x1="299.8" y1="497.36" x2="302.4" y2="497.36" stroke="#222222" stroke-width="1.1"/>
<text x="300.3" y="501.06" font-size="10.6" text-anchor="end" stroke="#1c1c1c" stroke-width="0.35" fill="#1c1c1c">12</text>
<line x1="299.8" y1="478.12" x2="302.4" y2="478.12" stroke="#222222" stroke-width="1.1"/>
<text x="300.3" y="481.82" font-size="10.6" text-anchor="end" stroke="#1c1c1c" stroke-width="0.35" fill="#1c1c1c">14</text>
<line x1="302.4" y1="612.8" x2="494.37" y2="612.8" stroke="#4a4a4a" stroke-width="1.5"/>
<line x1="302.4" y1="612.8" x2="302.4" y2="615" stroke="#4a4a4a" stroke-width="1.1"/>
<text x="303.2" y="626.3" font-size="10.8" text-anchor="middle" stroke="#1c1c1c" stroke-width="0.35" fill="#1c1c1c">0</text>
<line x1="321.36" y1="612.8" x2="321.36" y2="615" stroke="#4a4a4a" stroke-width="1.1"/>
<text x="322.16" y="626.3" font-size="10.8" text-anchor="middle" stroke="#1c1c1c" stroke-width="0.35" fill="#1c1c1c">200</text>
<line x1="340.32" y1="612.8" x2="340.32" y2="615" stroke="#4a4a4a" stroke-width="1.1"/>
<line x1="359.28" y1="612.8" x2="359.28" y2="615" stroke="#4a4a4a" stroke-width="1.1"/>
<text x="360.08" y="626.3" font-size="10.8" text-anchor="middle" stroke="#1c1c1c" stroke-width="0.35" fill="#1c1c1c">600</text>
<line x1="378.24" y1="612.8" x2="378.24" y2="615" stroke="#4a4a4a" stroke-width="1.1"/>
<line x1="397.2" y1="612.8" x2="397.2" y2="615" stroke="#4a4a4a" stroke-width="1.1"/>
<text x="398" y="626.3" font-size="10.8" text-anchor="middle" stroke="#1c1c1c" stroke-width="0.35" fill="#1c1c1c">1000</text>
<line x1="416.16" y1="612.8" x2="416.16" y2="615" stroke="#4a4a4a" stroke-width="1.1"/>
<line x1="435.12" y1="612.8" x2="435.12" y2="615" stroke="#4a4a4a" stroke-width="1.1"/>
<text x="435.92" y="626.3" font-size="10.8" text-anchor="middle" stroke="#1c1c1c" stroke-width="0.35" fill="#1c1c1c">1400</text>
<line x1="454.08" y1="612.8" x2="454.08" y2="615" stroke="#4a4a4a" stroke-width="1.1"/>
<line x1="473.04" y1="612.8" x2="473.04" y2="615" stroke="#4a4a4a" stroke-width="1.1"/>
<text x="473.84" y="626.3" font-size="10.8" text-anchor="middle" stroke="#1c1c1c" stroke-width="0.35" fill="#1c1c1c">1800</text>
<line x1="492" y1="612.8" x2="492" y2="615" stroke="#4a4a4a" stroke-width="1.1"/>
<text transform="translate(285.9 540.9) rotate(-90) scale(1 1)" font-size="10.4" text-anchor="middle" fill="#1c1c1c" stroke="#1c1c1c" stroke-width="0.35">% Total cells</text>
<text x="400.8" y="637" font-size="10.65" text-anchor="middle" stroke="#1c1c1c" stroke-width="0.35" fill="#1c1c1c">Area (µm²)</text>
<path d="M302.4,612.8 C305.56,610.8 315.04,602.03 321.36,600.77 C327.68,599.52 334,611.76 340.32,605.3 C346.64,598.83 352.96,568.61 359.28,562.01 C365.6,555.4 371.92,576.05 378.24,565.66 C384.56,555.27 390.88,508.01 397.2,499.67 C403.52,491.33 409.84,507.75 416.16,515.64 C422.48,523.53 428.8,534.62 435.12,547 C441.44,559.38 447.76,580.27 454.08,589.9 C460.4,599.54 466.72,601 473.04,604.82 C479.36,608.63 488.84,611.47 492,612.8" fill="none" stroke="#070707" stroke-width="2.3" stroke-linejoin="round" stroke-linecap="round"/>
<circle cx="302.4" cy="612.8" r="3.1" fill="#080808" stroke="#000000" stroke-width="1.15"/>
<circle cx="321.36" cy="600.77" r="3.1" fill="#080808" stroke="#000000" stroke-width="1.15"/>
<circle cx="340.32" cy="605.3" r="3.1" fill="#080808" stroke="#000000" stroke-width="1.15"/>
<circle cx="359.28" cy="562.01" r="3.1" fill="#080808" stroke="#000000" stroke-width="1.15"/>
<circle cx="378.24" cy="565.66" r="3.1" fill="#080808" stroke="#000000" stroke-width="1.15"/>
<circle cx="397.2" cy="499.67" r="3.1" fill="#080808" stroke="#000000" stroke-width="1.15"/>
<circle cx="416.16" cy="515.64" r="3.1" fill="#080808" stroke="#000000" stroke-width="1.15"/>
<circle cx="435.12" cy="547" r="3.1" fill="#080808" stroke="#000000" stroke-width="1.15"/>
<circle cx="454.08" cy="589.9" r="3.1" fill="#080808" stroke="#000000" stroke-width="1.15"/>
<circle cx="473.04" cy="604.82" r="3.1" fill="#080808" stroke="#000000" stroke-width="1.15"/>
<circle cx="492" cy="612.8" r="3.1" fill="#080808" stroke="#000000" stroke-width="1.15"/>
<path d="M302.4,612.8 C305.56,608.26 315.04,587.58 321.36,585.58 C327.68,583.57 334,600.69 340.32,600.77 C346.64,600.86 352.96,586.14 359.28,586.06 C365.6,585.98 371.92,597.97 378.24,600.29 C384.56,602.62 390.88,597.92 397.2,600.01 C403.52,602.09 409.84,610.67 416.16,612.8 C422.48,614.93 428.8,612.8 435.12,612.8 C441.44,612.8 447.76,612.8 454.08,612.8 C460.4,612.8 466.72,612.8 473.04,612.8 C479.36,612.8 488.84,612.8 492,612.8" fill="none" stroke="#40a075" stroke-width="2.1" stroke-linejoin="round" stroke-linecap="round"/>
<path d="M302.4,612.8 C305.56,608.87 315.04,607.51 321.36,589.23 C327.68,570.95 332.42,506.4 340.32,503.13 C348.22,499.87 352.96,561.81 359.28,573.55 C365.6,585.29 371.92,573.58 378.24,573.55 C384.56,573.52 390.88,566.82 397.2,573.36 C403.52,579.9 409.84,610.15 416.16,612.8 C422.48,615.45 428.8,594.52 435.12,589.23 C441.44,583.94 447.76,578.46 454.08,581.05 C460.4,583.65 466.72,599.52 473.04,604.82 C479.36,610.11 488.84,611.47 492,612.8" fill="none" stroke="#40a075" stroke-width="2.1" stroke-linejoin="round" stroke-linecap="round"/>
<polygon points="302.4,609.17 305.84,615.05 298.96,615.05" fill="#4ea57c" stroke="#18482f" stroke-width="1.15" stroke-linejoin="round"/>
<polygon points="321.36,581.95 324.8,587.82 317.92,587.82" fill="#4ea57c" stroke="#18482f" stroke-width="1.15" stroke-linejoin="round"/>
<polygon points="340.32,597.15 343.76,603.02 336.88,603.02" fill="#4ea57c" stroke="#18482f" stroke-width="1.15" stroke-linejoin="round"/>
<polygon points="359.28,582.43 362.72,588.3 355.84,588.3" fill="#4ea57c" stroke="#18482f" stroke-width="1.15" stroke-linejoin="round"/>
<polygon points="378.24,596.67 381.68,602.54 374.8,602.54" fill="#4ea57c" stroke="#18482f" stroke-width="1.15" stroke-linejoin="round"/>
<polygon points="397.2,596.38 400.64,602.25 393.76,602.25" fill="#4ea57c" stroke="#18482f" stroke-width="1.15" stroke-linejoin="round"/>
<polygon points="416.16,609.17 419.6,615.05 412.72,615.05" fill="#4ea57c" stroke="#18482f" stroke-width="1.15" stroke-linejoin="round"/>
<polygon points="435.12,609.17 438.56,615.05 431.68,615.05" fill="#4ea57c" stroke="#18482f" stroke-width="1.15" stroke-linejoin="round"/>
<polygon points="454.08,609.17 457.52,615.05 450.64,615.05" fill="#4ea57c" stroke="#18482f" stroke-width="1.15" stroke-linejoin="round"/>
<polygon points="473.04,609.17 476.48,615.05 469.6,615.05" fill="#4ea57c" stroke="#18482f" stroke-width="1.15" stroke-linejoin="round"/>
<polygon points="492,609.17 495.44,615.05 488.56,615.05" fill="#4ea57c" stroke="#18482f" stroke-width="1.15" stroke-linejoin="round"/>
<circle cx="302.4" cy="612.8" r="3.2" fill="#4ea57c" stroke="#18482f" stroke-width="1.15"/>
<circle cx="321.36" cy="589.23" r="3.2" fill="#4ea57c" stroke="#18482f" stroke-width="1.15"/>
<circle cx="340.32" cy="503.13" r="3.2" fill="#4ea57c" stroke="#18482f" stroke-width="1.15"/>
<circle cx="359.28" cy="573.55" r="3.2" fill="#4ea57c" stroke="#18482f" stroke-width="1.15"/>
<circle cx="378.24" cy="573.55" r="3.2" fill="#4ea57c" stroke="#18482f" stroke-width="1.15"/>
<circle cx="397.2" cy="573.36" r="3.2" fill="#4ea57c" stroke="#18482f" stroke-width="1.15"/>
<circle cx="416.16" cy="612.8" r="3.2" fill="#4ea57c" stroke="#18482f" stroke-width="1.15"/>
<circle cx="435.12" cy="589.23" r="3.2" fill="#4ea57c" stroke="#18482f" stroke-width="1.15"/>
<circle cx="454.08" cy="581.05" r="3.2" fill="#4ea57c" stroke="#18482f" stroke-width="1.15"/>
<circle cx="473.04" cy="604.82" r="3.2" fill="#4ea57c" stroke="#18482f" stroke-width="1.15"/>
<circle cx="492" cy="612.8" r="3.2" fill="#4ea57c" stroke="#18482f" stroke-width="1.15"/>
<circle cx="429.6" cy="483.5" r="2.9" fill="#080808" stroke="#000000" stroke-width="1.15"/>
<polygon points="429.6,495.68 433.04,501.55 426.16,501.55" fill="#4ea57c" stroke="#18482f" stroke-width="1.15" stroke-linejoin="round"/>
<circle cx="429.6" cy="515.2" r="2.9" fill="#4ea57c" stroke="#18482f" stroke-width="1.15"/>
<text transform="translate(435.9 486.4) scale(1.03 1)" font-size="10.6" text-anchor="start" stroke="#1c1c1c" stroke-width="0.35" fill="#1c1c1c">4h PMA</text>
<text transform="translate(435.9 502.2) scale(1.03 1)" font-size="10.6" text-anchor="start" stroke="#1c1c1c" stroke-width="0.35" fill="#1c1c1c">4h PMA + ABAH</text>
<text transform="translate(435.9 518.1) scale(1.03 1)" font-size="10.6" text-anchor="start" stroke="#1c1c1c" stroke-width="0.35" fill="#1c1c1c">6h PMA + ABAH</text>
</svg>
</body></html>
